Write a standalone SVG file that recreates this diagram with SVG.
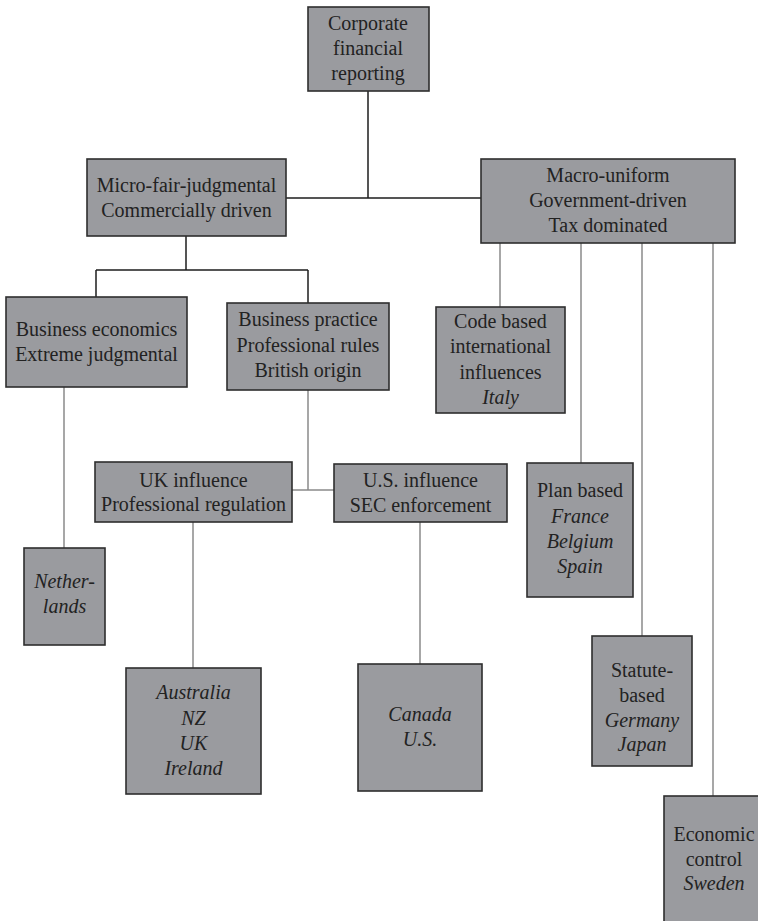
<svg xmlns="http://www.w3.org/2000/svg" width="758" height="921" viewBox="0 0 758 921" font-family="'Liberation Serif','Times New Roman','DejaVu Serif',serif">
<style>
.box{fill:#9a9b9f;stroke:#2e2e2e;stroke-width:1.6}
text{font-family:'Liberation Serif','Times New Roman','DejaVu Serif',serif;font-size:20px;fill:#222;text-anchor:middle}
.i{font-style:italic}
.k{stroke:#1e1e1e;stroke-width:1.5;fill:none}
.g{stroke:#8a8a8a;stroke-width:1.5;fill:none}
</style>
<rect width="758" height="921" fill="#fff"/>
<g id="connectors">
<path class="k" d="M368,91V198M286,198H481M186,236V270M96,270H308M96,270V297M308,270V303"/>
<path class="g" d="M500,243V307M581,243V463M642,243V636M713,243V796M64,387V548M308,390V490M292,490H334M193,522V668M420,522V664"/>
</g>
<g id="n-corporate">
<rect class="box" x="308" y="7" width="121" height="84"/>
<text x="368" y="30">Corporate</text><text x="368" y="55">financial</text><text x="368" y="80">reporting</text>
</g>
<g id="n-micro">
<rect class="box" x="87" y="159" width="199" height="77"/>
<text x="186.5" y="192">Micro-fair-judgmental</text><text x="186.5" y="217">Commercially driven</text>
</g>
<g id="n-macro">
<rect class="box" x="481" y="159" width="254" height="84"/>
<text x="608" y="182">Macro-uniform</text><text x="608" y="207">Government-driven</text><text x="608" y="232">Tax dominated</text>
</g>
<g id="n-buseco">
<rect class="box" x="6" y="297" width="181" height="90"/>
<text x="96.5" y="336">Business economics</text><text x="96.5" y="361">Extreme judgmental</text>
</g>
<g id="n-buspractice">
<rect class="box" x="227" y="303" width="162" height="87"/>
<text x="308" y="326">Business practice</text><text x="308" y="352">Professional rules</text><text x="308" y="377">British origin</text>
</g>
<g id="n-code">
<rect class="box" x="436" y="307" width="129" height="106"/>
<text x="500.5" y="328">Code based</text><text x="500.5" y="353">international</text><text x="500.5" y="379">influences</text><text class="i" x="500.5" y="404">Italy</text>
</g>
<g id="n-uk">
<rect class="box" x="95" y="462" width="197" height="60"/>
<text x="193.5" y="487">UK influence</text><text x="193.5" y="511">Professional regulation</text>
</g>
<g id="n-us">
<rect class="box" x="334" y="464" width="173" height="58"/>
<text x="420.5" y="487">U.S. influence</text><text x="420.5" y="512">SEC enforcement</text>
</g>
<g id="n-netherlands">
<rect class="box" x="24" y="548" width="81" height="97"/>
<text class="i" x="64.5" y="588">Nether-</text><text class="i" x="64.5" y="613">lands</text>
</g>
<g id="n-australia">
<rect class="box" x="126" y="668" width="135" height="126"/>
<text class="i" x="193.5" y="699">Australia</text><text class="i" x="193.5" y="725">NZ</text><text class="i" x="193.5" y="750">UK</text><text class="i" x="193.5" y="775">Ireland</text>
</g>
<g id="n-canada">
<rect class="box" x="358" y="664" width="124" height="127"/>
<text class="i" x="420" y="721">Canada</text><text class="i" x="420" y="746">U.S.</text>
</g>
<g id="n-plan">
<rect class="box" x="527" y="463" width="106" height="134"/>
<text x="580" y="497">Plan based</text><text class="i" x="580" y="523">France</text><text class="i" x="580" y="548">Belgium</text><text class="i" x="580" y="573">Spain</text>
</g>
<g id="n-statute">
<rect class="box" x="592" y="636" width="100" height="130"/>
<text x="642" y="677">Statute-</text><text x="642" y="702">based</text><text class="i" x="642" y="727">Germany</text><text class="i" x="642" y="751">Japan</text>
</g>
<g id="n-economic">
<rect class="box" x="664" y="796" width="110" height="140"/>
<text x="714" y="841">Economic</text><text x="714" y="866">control</text><text class="i" x="714" y="890">Sweden</text>
</g>
</svg>
